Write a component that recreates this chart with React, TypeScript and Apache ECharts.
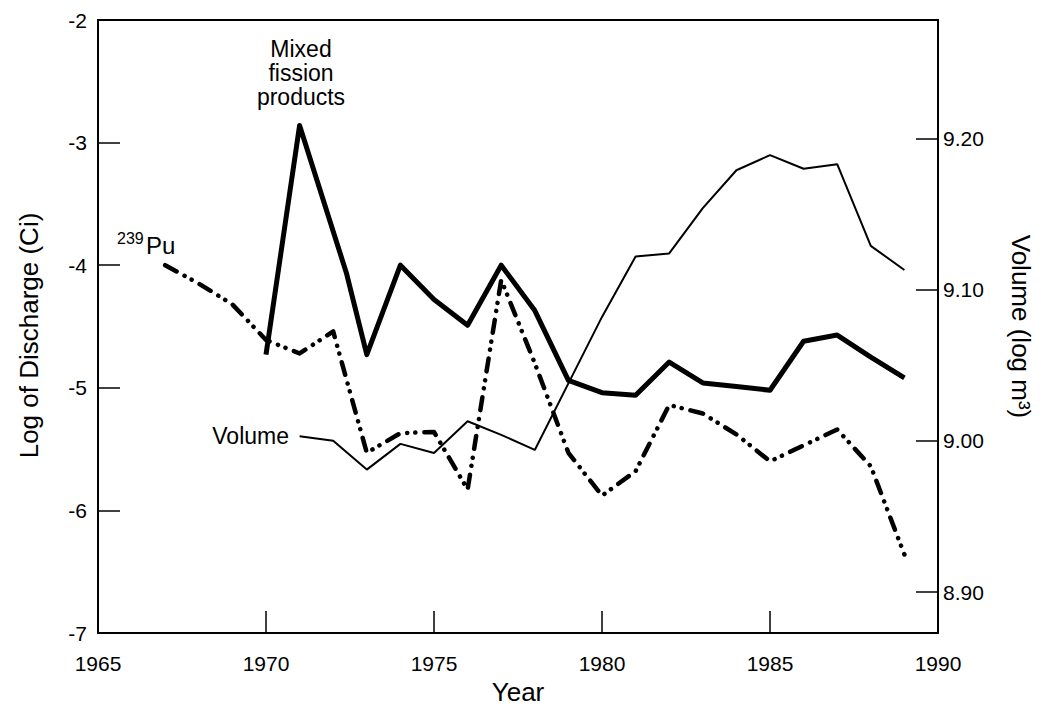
import React, { useEffect, useRef } from "react";
import * as echarts from "echarts";

const FONT = "'Liberation Sans', Arial, Helvetica, sans-serif";

// x-axis ticks (years)
const yearMin = 1965;
const yearMax = 1990;
// left axis: log of discharge (Ci)
const logMin = -7;
const logMax = -2;
// right axis: volume (log m3) tick labels
const volTicks = [8.9, 9.0, 9.1, 9.2];
const volMin = 8.8729;
const volMax = 9.2784;

// Mixed fission products (log Ci)
const mixedYears = [1970, 1971, 1972.4, 1973, 1974, 1975, 1976, 1977, 1978, 1979, 1980, 1981, 1982, 1983, 1984, 1985, 1986, 1987, 1988, 1989];
const mixedLog = [-4.73, -2.86, -4.07, -4.73, -4.0, -4.28, -4.49, -4.0, -4.37, -4.94, -5.04, -5.06, -4.79, -4.96, -4.99, -5.02, -4.62, -4.57, -4.75, -4.92];

// 239Pu (log Ci)
const puYears = [1967, 1968, 1969, 1970, 1971, 1972, 1973, 1974, 1975, 1976, 1977, 1978, 1979, 1980, 1981, 1982, 1983, 1984, 1985, 1986, 1987, 1988, 1989];
const puLog = [-4.0, -4.15, -4.32, -4.61, -4.72, -4.54, -5.53, -5.37, -5.36, -5.83, -4.12, -4.8, -5.53, -5.88, -5.68, -5.14, -5.21, -5.38, -5.6, -5.47, -5.34, -5.64, -6.36];

// Volume (log m3)
const volYears = [1971, 1972, 1973, 1974, 1975, 1976, 1977, 1978, 1979, 1980, 1981, 1982, 1983, 1984, 1985, 1986, 1987, 1988, 1989];
const volLog = [9.003, 9.0, 8.981, 8.998, 8.992, 9.013, 9.004, 8.994, 9.038, 9.082, 9.122, 9.124, 9.154, 9.179, 9.189, 9.18, 9.183, 9.129, 9.113];

const pairs = (xs: number[], ys: number[]) => xs.map((x, i) => [x, ys[i]]);

export default function App() {
  const ref = useRef<HTMLDivElement>(null);
  useEffect(() => {
    document.body.style.margin = "0";
    const chart = echarts.init(ref.current!, null, { renderer: "svg" });
    const black = "#000";
    chart.setOption({
      animation: false,
      backgroundColor: "#fff",
      textStyle: { fontFamily: FONT, color: black },
      grid: { left: 98, right: 115, top: 20, bottom: 93, show: true, borderColor: black, borderWidth: 2, backgroundColor: "transparent" },
      xAxis: {
        type: "value",
        min: yearMin,
        max: yearMax,
        interval: 5,
        name: "Year",
        nameLocation: "middle",
        nameGap: 46,
        nameTextStyle: { fontSize: 26, color: black, fontFamily: FONT },
        axisLine: { lineStyle: { color: black, width: 2 } },
        axisTick: { inside: true, length: 22, lineStyle: { color: black, width: 1.5 } },
        axisLabel: { color: black, fontSize: 21, margin: 20, fontFamily: FONT, formatter: (v: number) => String(v) },
        splitLine: { show: false },
      },
      yAxis: [
        {
          type: "value",
          position: "left",
          min: logMin,
          max: logMax,
          interval: 1,
          name: "Log of Discharge (Ci)",
          nameLocation: "middle",
          nameRotate: 90,
          nameGap: 56,
          nameTextStyle: { fontSize: 26, color: black, fontFamily: FONT, padding: [0, 0, 0, -18] },
          axisLine: { show: true, lineStyle: { color: black, width: 2 } },
          axisTick: { inside: true, length: 22, lineStyle: { color: black, width: 1.5 } },
          axisLabel: { color: black, fontSize: 21, margin: 11, fontFamily: FONT },
          splitLine: { show: false },
        },
        {
          type: "value",
          position: "right",
          min: volMin,
          max: volMax,
          name: "Volume (log m³)",
          nameLocation: "middle",
          nameRotate: -90,
          nameGap: 70,
          nameTextStyle: { fontSize: 26, color: black, fontFamily: FONT },
          axisLine: { show: true, lineStyle: { color: black, width: 2 } },
          axisTick: { inside: true, length: 22, customValues: volTicks, lineStyle: { color: black, width: 1.5 } },
          axisLabel: { color: black, fontSize: 21, margin: 5, fontFamily: FONT, customValues: volTicks, formatter: (v: number) => v.toFixed(2) },
          splitLine: { show: false },
        },
      ],
      series: [
        {
          name: "Mixed fission products",
          type: "line",
          yAxisIndex: 0,
          symbol: "none",
          data: pairs(mixedYears, mixedLog),
          lineStyle: { color: black, width: 5, join: "round" },
        },
        {
          name: "239Pu",
          type: "line",
          yAxisIndex: 0,
          symbol: "none",
          data: pairs(puYears, puLog),
          lineStyle: { color: black, width: 4.5, type: [13, 9, 0.1, 8, 0.1, 9], cap: "round", join: "round" },
        },
        {
          name: "Volume",
          type: "line",
          yAxisIndex: 1,
          symbol: "none",
          data: pairs(volYears, volLog),
          lineStyle: { color: black, width: 2 },
        },
      ],
      graphic: [
        {
          type: "text",
          x: 301,
          y: 37,
          style: { text: "Mixed\nfission\nproducts", textAlign: "center", textVerticalAlign: "top", fontSize: 23, lineHeight: 24, fill: black, fontFamily: FONT },
        },
        {
          type: "text",
          x: 117,
          y: 230,
          style: { text: "239", textAlign: "left", textVerticalAlign: "top", fontSize: 16, fill: black, fontFamily: FONT },
        },
        {
          type: "text",
          x: 146,
          y: 257,
          style: { text: "Pu", textAlign: "left", textVerticalAlign: "bottom", fontSize: 24, fill: black, fontFamily: FONT },
        },
        {
          type: "text",
          x: 289,
          y: 436,
          style: { text: "Volume", textAlign: "right", textVerticalAlign: "middle", fontSize: 23, fill: black, fontFamily: FONT },
        },
      ],
    });
    return () => chart.dispose();
  }, []);
  return <div ref={ref} style={{ width: 1053, height: 726 }} />;
}
